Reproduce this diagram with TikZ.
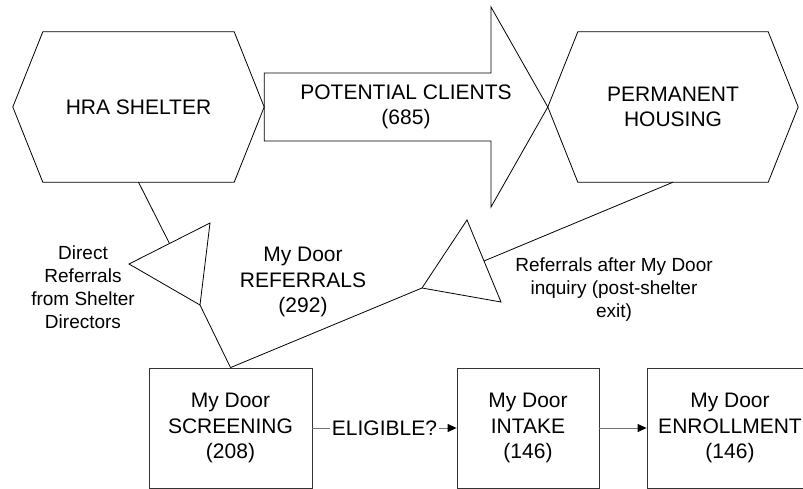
\documentclass[tikz,border=0pt]{standalone}
\usepackage{fontspec}
\setmainfont{Liberation Sans}
\usetikzlibrary{arrows.meta,calc}

\begin{document}
\begin{tikzpicture}[x=1pt,y=-1pt,
    bigtext/.style={font=\fontsize{21}{25.5}\selectfont, align=center},
    smalltext/.style={font=\fontsize{19}{23}\selectfont, align=center},
    hexbox/.style={bigtext, minimum width=#1, minimum height=150pt, inner sep=0pt},
    stagebox/.style={bigtext, draw=black!80, line width=0.8pt, minimum width=#1, minimum height=120pt, inner sep=0pt},
    conn/.style={draw=black!55, line width=1pt, -{Triangle[length=9pt,width=8pt,color=black]}},
    thinline/.style={line width=0.8pt}]
  \useasboundingbox (0,0) rectangle (803,489);

  % Draw the two hexagons
  \node[hexbox=191pt] (hra) at (138.5,107) {HRA SHELTER};
  \node[hexbox=190pt] (housing) at (673,107) {PERMANENT\\HOUSING};
  \draw[thinline] (hra.north west) -- (hra.north east) -- ([xshift=30pt]hra.east) -- (hra.south east)
    -- (hra.south west) -- ([xshift=-30pt]hra.west) -- cycle;
  \draw[thinline] (housing.north west) -- (housing.north east) -- ([xshift=30pt]housing.east) -- (housing.south east)
    -- (housing.south west) -- ([xshift=-30pt]housing.west) -- cycle;

  % Draw the big arrow
  \coordinate (tail) at ([xshift=30pt]hra.east);
  \coordinate (tip) at ([xshift=-30pt]housing.west);
  \draw[thinline] (tail |- 0,73) -- (491,73) -- (491,7) -- (tip) -- (491,207) -- (491,141) -- (tail |- 0,141) -- cycle;
  \node[bigtext] (clients) at (406,107) {POTENTIAL CLIENTS\\(685)};

  % Draw the referral triangles
  \coordinate (dt1) at (210,223);
  \coordinate (dt2) at (129,264);
  \coordinate (dt3) at (200,305);
  \draw[thinline] (dt1) -- (dt2) -- (dt3) -- cycle;
  \coordinate (rt1) at (467,220);
  \coordinate (rt2) at (422,288);
  \coordinate (rt3) at (501,302);
  \draw[thinline] (rt1) -- (rt2) -- (rt3) -- cycle;

  % Draw the stage boxes
  \node[stagebox=163pt] (screen) at (230.5,428) {My Door\\SCREENING\\(208)};
  \node[stagebox=142pt] (intake) at (528,428) {My Door\\INTAKE\\(146)};
  \node[stagebox=166pt] (enroll) at (730,428) {My Door\\ENROLLMENT\\(146)};

  % Draw the connectors
  \draw[thinline] (hra.south) -- ($(dt1)!0.5!(dt2)$);
  \draw[thinline] (dt3) -- (screen.north);
  \draw[thinline] (housing.south) -- ($(rt1)!0.5!(rt3)$);
  \draw[thinline] (rt2) -- (screen.north);
  \draw[conn] (screen) -- node[bigtext, fill=white, inner sep=2pt] {ELIGIBLE?} (intake);
  \draw[conn] (intake) -- (enroll);

  % Draw the labels
  \node[smalltext] (directlbl) at (83,287) {Direct\\Referrals\\from Shelter\\Directors};
  \node[bigtext] (referlbl) at (303,282) {My Door\\REFERRALS\\(292)};
  \node[smalltext] (afterlbl) at (614,290) {Referrals after My Door\\inquiry (post-shelter\\exit)};
\end{tikzpicture}
\end{document}
